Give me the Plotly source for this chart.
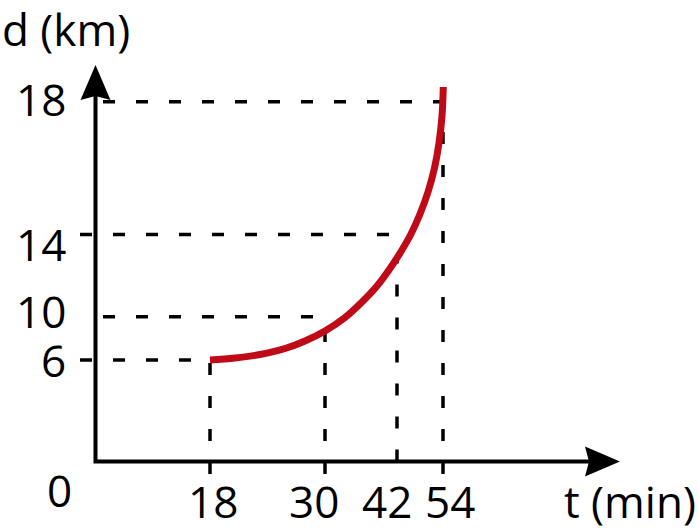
import numpy as np
import plotly.graph_objects as go

# the sketch is not drawn to scale, so positions are in drawing units from the origin
t_labels = [18, 30, 42, 54]
t_pos = [114.5, 229.5, 301.5, 347.5]
d_labels = [6, 10, 14, 18]
d_pos = [101.5, 144.8, 227.0, 359.8]

# red curve d(t)
curve_x = [114.5, 139.5, 164.5, 189.5, 209.5, 229.5, 249.5, 266.5, 281.5,
           294.5, 305.5, 315.5, 324.5, 332.5, 339.0, 343.5, 346.5, 347.8]
curve_y = [101.5, 103.5, 107.0, 113.0, 120.5, 130.5, 144.0, 159.5, 175.5,
           193.0, 210.0, 227.5, 247.5, 269.5, 293.5, 318.5, 345.5, 374.5]

# style bits
font = dict(family='Open Sans', size=44, color='black')
dash = '12px,21px'
row_start = [-15.5, 7.5, -15.5, 7.5]      # where each horizontal guide starts
col_start = [-12.5, -12.5, 0, -12.5]      # where each vertical guide starts
t_nudge = [2.5, -11, -10.3, 7]
d_nudge = [0.5, 5.7, -9, 3.2]
x_end, y_end = 524.5, 396.5               # arrow tips
head_len, head_half = 35, 15

fig = go.Figure()

# horizontal guides from the d axis to each t position
for y, x0, x1 in zip(d_pos, row_start, t_pos):
    fig.add_trace(go.Scatter(x=[x0, x1], y=[y, y], mode='lines',
                             line=dict(color='black', width=3.5, dash=dash),
                             hoverinfo='skip'))

# vertical guides from below the t axis up to the curve
col_top = np.interp(t_pos, curve_x, curve_y)
for x, y0, y1 in zip(t_pos, col_start, col_top):
    fig.add_trace(go.Scatter(x=[x, x], y=[y0, y1], mode='lines',
                             line=dict(color='black', width=3.5, dash=dash),
                             hoverinfo='skip'))

# axes
fig.add_trace(go.Scatter(x=[0, 0, x_end - head_len + 8], y=[y_end - head_len + 8, 0, 0],
                         mode='lines', line=dict(color='black', width=4),
                         hoverinfo='skip'))

# the curve
fig.add_trace(go.Scatter(x=curve_x, y=curve_y, mode='lines',
                         line=dict(color='#C00A17', width=7, shape='spline'),
                         hoverinfo='skip'))

# arrow heads
yb = y_end - head_len
xb = x_end - head_len
fig.add_shape(type='path', xref='x', yref='y', fillcolor='black', line_width=0,
              path=f'M 0,{y_end} L {-head_half},{yb} L 0,{yb + 4} L {head_half},{yb} Z')
fig.add_shape(type='path', xref='x', yref='y', fillcolor='black', line_width=0,
              path=f'M {x_end},0 L {xb},{head_half} L {xb + 4},0 L {xb},{-head_half} Z')

# labels
for lab, x, dx in zip(t_labels, t_pos, t_nudge):
    fig.add_annotation(x=x + dx, y=-39.5, text=str(lab), showarrow=False,
                       xanchor='center', yanchor='middle', font=font)
for lab, y, dy in zip(d_labels, d_pos, d_nudge):
    fig.add_annotation(x=-27.5, y=y + dy, text=str(lab), showarrow=False,
                       xanchor='right', yanchor='middle', font=font)
fig.add_annotation(x=-36, y=-28, text='0', showarrow=False, font=font)
fig.add_annotation(x=534, y=-39.5, text='t (min)', showarrow=False, font=font)
fig.add_annotation(x=-29.5, y=433, text='d (km)', showarrow=False, font=font)

fig.update_layout(
    width=699, height=531,
    margin=dict(l=0, r=0, t=0, b=0),
    paper_bgcolor='white', plot_bgcolor='white',
    showlegend=False,
    xaxis=dict(range=[-95.5, 603.5], visible=False, fixedrange=True),
    yaxis=dict(range=[-69.5, 461.5], visible=False, fixedrange=True),
)

# drop the page's default body margin so the figure sits at the top-left
fig.write_html('out.html', config={'displayModeBar': False},
               post_script="document.body.style.margin='0';")
